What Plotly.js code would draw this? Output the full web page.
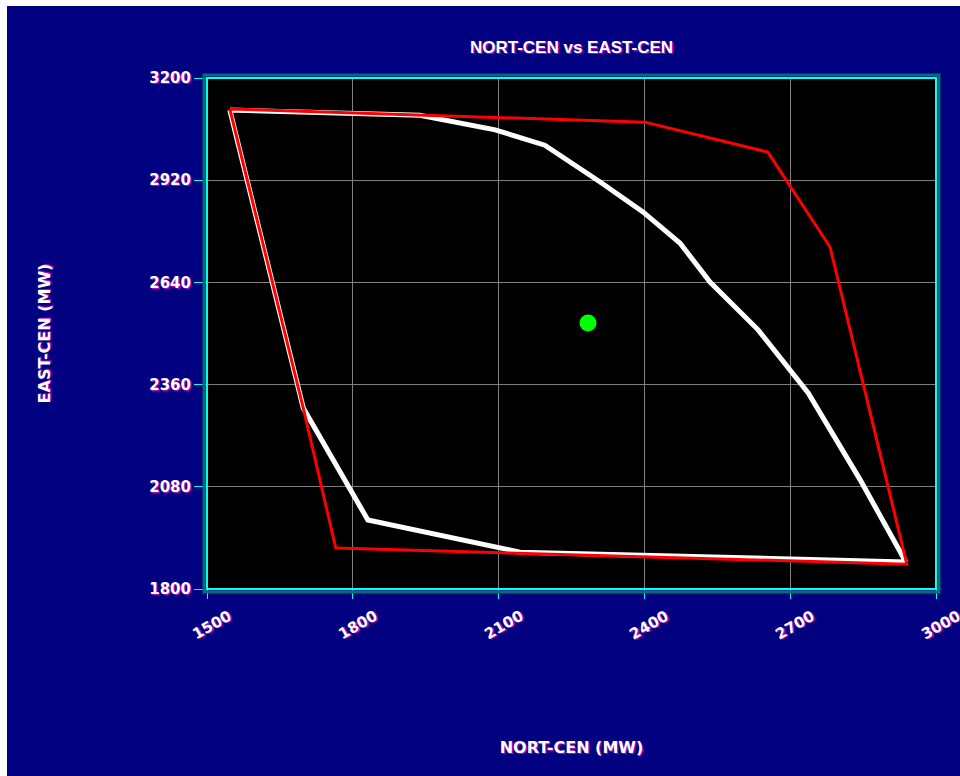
<!DOCTYPE html>
<html>
<head>
<meta charset="utf-8">
<script src="https://cdn.plot.ly/plotly-3.0.1.min.js"></script>
<style>
  html, body { margin: 0; padding: 0; background: #ffffff; overflow: hidden; }
  #chart { position: absolute; left: 7px; top: 6px; width: 953px; height: 770px; }
</style>
</head>
<body>
<div id="chart"></div>
<script>
// NORT-CEN vs EAST-CEN transfer limits (MW)

// Outer security region (red polygon)
const regionNort = [1547, 2401, 2654, 2782, 2940, 2144, 1765, 1698, 1547];
const regionEast = [3115, 3079, 2997, 2737, 1868, 1899, 1912, 2296, 3115];

// Inner operating boundary (white curve)
const boundaryNort = [1547, 1938, 2093, 2195, 2309, 2397, 2473, 2535, 2634, 2737, 2844, 2938, 2144, 1831, 1698, 1547];
const boundaryEast = [3112, 3098, 3058, 3016, 2915, 2833, 2748, 2641, 2510, 2337, 2099, 1874, 1901, 1989, 2296, 3112];

// Current operating point (green dot)
const pointNort = [2284];
const pointEast = [2529];

// Axis ticks
const xTicks = [1500, 1800, 2100, 2400, 2700, 3000];
const yTicks = [1800, 2080, 2360, 2640, 2920, 3200];

const labelFont = {
  family: 'DejaVu Sans, sans-serif',
  size: 15,
  color: '#ffffff',
  weight: 'bold',
  shadow: '1px 1px 0px #c000c0'
};

const traces = [
  {
    x: boundaryNort, y: boundaryEast,
    type: 'scatter', mode: 'lines',
    line: { color: '#ffffff', width: 5 },
    hoverinfo: 'skip', showlegend: false
  },
  {
    x: regionNort, y: regionEast,
    type: 'scatter', mode: 'lines',
    line: { color: '#ff0000', width: 3 },
    hoverinfo: 'skip', showlegend: false
  },
  {
    x: pointNort, y: pointEast,
    type: 'scatter', mode: 'markers',
    marker: { color: '#00ff00', size: 17, line: { width: 0 } },
    hoverinfo: 'skip', showlegend: false
  }
];

// Rotated x tick labels placed along the x axis
const xLabels = xTicks.map(v => ({
  x: v, xref: 'x', y: 0, yref: 'paper',
  text: String(v), showarrow: false,
  textangle: -30, xanchor: 'center', yanchor: 'middle',
  xshift: 5, yshift: -36,
  font: labelFont
}));

// Two-tone frame around the plotting area
const W = 729, H = 511;
const frame = [
  {
    type: 'rect', xref: 'paper', yref: 'paper', layer: 'above',
    x0: -3 / W, x1: 1 + 3 / W, y0: -3 / H, y1: 1 + 3 / H,
    line: { color: '#007070', width: 3 }
  },
  {
    type: 'rect', xref: 'paper', yref: 'paper', layer: 'above',
    x0: 0, x1: 1, y0: 0, y1: 1,
    line: { color: '#00ffff', width: 2 }
  }
];

const layout = {
  width: 953, height: 770,
  margin: { l: 200, r: 24, t: 72, b: 187 },
  paper_bgcolor: '#000080',
  plot_bgcolor: '#000000',
  title: {
    text: 'NORT-CEN vs EAST-CEN',
    font: { family: 'Liberation Sans, Arial, sans-serif', size: 17, color: '#ffffff', weight: 'bold', shadow: '1px 1px 0px #c000c0' },
    x: 0.5, xref: 'paper', xanchor: 'center',
    y: 1 - 41 / 770, yref: 'container', yanchor: 'middle'
  },
  xaxis: {
    range: [1500, 3000],
    tickvals: xTicks,
    showticklabels: false,
    ticks: 'outside', ticklen: 9, tickcolor: '#00ffff', tickwidth: 1,
    showgrid: true, gridcolor: '#808080', gridwidth: 1,
    zeroline: false, showline: false,
    title: {
      text: 'NORT-CEN (MW)',
      font: { family: 'DejaVu Sans, sans-serif', size: 16, color: '#ffffff', weight: 'bold', shadow: '1px 1px 0px #c000c0' },
      standoff: 143
    },
    fixedrange: true
  },
  yaxis: {
    range: [1800, 3200],
    tickvals: yTicks,
    ticktext: yTicks.map(String),
    tickfont: labelFont,
    ticks: 'outside', ticklen: 12, tickcolor: '#00ffff', tickwidth: 1,
    showgrid: true, gridcolor: '#808080', gridwidth: 1,
    zeroline: false, showline: false,
    title: {
      text: 'EAST-CEN (MW)',
      font: { family: 'DejaVu Sans, sans-serif', size: 16, color: '#ffffff', weight: 'bold', shadow: '1px 1px 0px #c000c0' },
      standoff: 94
    },
    fixedrange: true
  },
  annotations: xLabels,
  shapes: frame,
  showlegend: false
};

Plotly.newPlot('chart', traces, layout, { displayModeBar: false, staticPlot: true });
</script>
</body>
</html>
